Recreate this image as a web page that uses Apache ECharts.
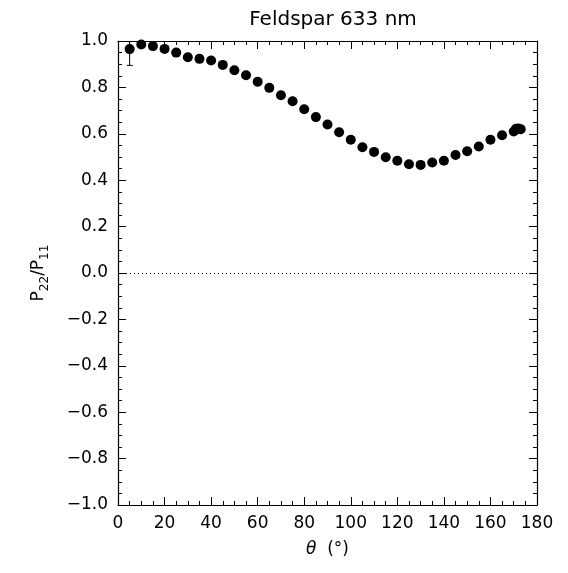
<!DOCTYPE html>
<html>
<head>
<meta charset="utf-8">
<script src="https://cdn.jsdelivr.net/npm/echarts@6/dist/echarts.min.js"></script>
<style>html,body{margin:0;padding:0;background:#fff}#c{width:568px;height:573px}</style>
</head>
<body>
<div id="c"></div>
<script>
var angles = [5,10,15,20,25,30,35,40,45,50,55,60,65,70,75,80,85,90,95,100,105,110,115,120,125,130,135,140,145,150,155,160,165,170,171,172,173];
var ratios = [0.965,0.985,0.978,0.966,0.950,0.930,0.923,0.916,0.897,0.874,0.852,0.824,0.798,0.766,0.740,0.706,0.672,0.640,0.607,0.574,0.542,0.522,0.499,0.484,0.469,0.466,0.476,0.484,0.509,0.525,0.545,0.574,0.594,0.610,0.622,0.623,0.620];
var errAngles = [5];
var errLow = [0.895];
var errHigh = [1.035];
var xTicks = {min:0, max:180, step:20};
var yTicks = {min:-1, max:1, step:0.2};

var FONT = 'DejaVu Sans';
var chart = echarts.init(document.getElementById('c'));
function fmtY(v){ var s = v.toFixed(1); if (Math.abs(v) < 1e-9) s = '0.0'; return s.replace('-', '\u2212'); }
var tickCommon = {inside:true, length:8, lineStyle:{color:'#000', width:1}};
var minorCommon = {show:true, splitNumber:4, length:4, lineStyle:{color:'#000', width:1}};
var lineCommon = {show:true, onZero:false, lineStyle:{color:'#000', width:1.2}};
var option = {
  animation:false,
  backgroundColor:'#fff',
  title:{text:'Feldspar 633 nm', left:328, top:5, textAlign:'center',
    textStyle:{fontFamily:FONT, fontWeight:'normal', fontSize:20, color:'#000'}},
  grid:{left:118, right:31, top:41, bottom:68, containLabel:false},
  xAxis:[{
    type:'value', min:xTicks.min, max:xTicks.max, interval:xTicks.step, position:'bottom',
    axisLine:lineCommon, axisTick:tickCommon, minorTick:minorCommon,
    splitLine:{show:false},
    axisLabel:{fontFamily:FONT, fontSize:17, color:'#000', margin:10},
    name:'{i|\u03b8}  (\u00b0)', nameLocation:'middle', nameGap:36,
    nameTextStyle:{fontFamily:FONT, fontSize:17, color:'#000',
      rich:{i:{fontFamily:FONT, fontStyle:'italic', fontSize:17, color:'#000'}}}
  },{
    type:'value', min:xTicks.min, max:xTicks.max, interval:xTicks.step, position:'top',
    axisLine:lineCommon, axisTick:tickCommon, minorTick:minorCommon,
    splitLine:{show:false}, axisLabel:{show:false}
  }],
  yAxis:[{
    type:'value', min:yTicks.min, max:yTicks.max, interval:yTicks.step, position:'left',
    axisLine:lineCommon, axisTick:tickCommon, minorTick:minorCommon,
    splitLine:{show:false},
    axisLabel:{fontFamily:FONT, fontSize:17, color:'#000', margin:10, formatter:fmtY},
    name:'{p|P}{s|22}{p|/P}{s|11}', nameLocation:'middle', nameGap:58, nameRotate:90,
    nameTextStyle:{fontFamily:FONT, fontSize:17, color:'#000',
      rich:{
        p:{fontFamily:FONT, fontSize:17, color:'#000', lineHeight:20, verticalAlign:'top'},
        s:{fontFamily:FONT, fontSize:12, color:'#000', lineHeight:30}
      }}
  },{
    type:'value', min:yTicks.min, max:yTicks.max, interval:yTicks.step, position:'right',
    axisLine:lineCommon, axisTick:tickCommon, minorTick:minorCommon,
    splitLine:{show:false}, axisLabel:{show:false}
  }],
  series:[{
    type:'scatter', xAxisIndex:0, yAxisIndex:0,
    symbol:'circle', symbolSize:10,
    itemStyle:{color:'#000', opacity:1},
    data: angles.map(function(a,i){return [a, ratios[i]];}),
    markLine:{silent:true, symbol:'none', label:{show:false},
      lineStyle:{color:'#000', type:[1,3], width:1},
      data:[{yAxis:0}]}
  },{
    type:'custom', xAxisIndex:0, yAxisIndex:0, clip:true,
    data: errAngles.map(function(a,i){return [a, errLow[i], errHigh[i]];}),
    renderItem:function(params, api){
      var lo = api.coord([api.value(0), api.value(1)]);
      var hi = api.coord([api.value(0), api.value(2)]);
      return {type:'group', children:[
        {type:'line', shape:{x1:lo[0], y1:lo[1], x2:hi[0], y2:hi[1]}, style:{stroke:'#000', lineWidth:1}},
        {type:'line', shape:{x1:lo[0]-3, y1:lo[1], x2:lo[0]+3, y2:lo[1]}, style:{stroke:'#000', lineWidth:1}}
      ]};
    }
  }]
};
chart.setOption(option);
</script>
</body>
</html>
